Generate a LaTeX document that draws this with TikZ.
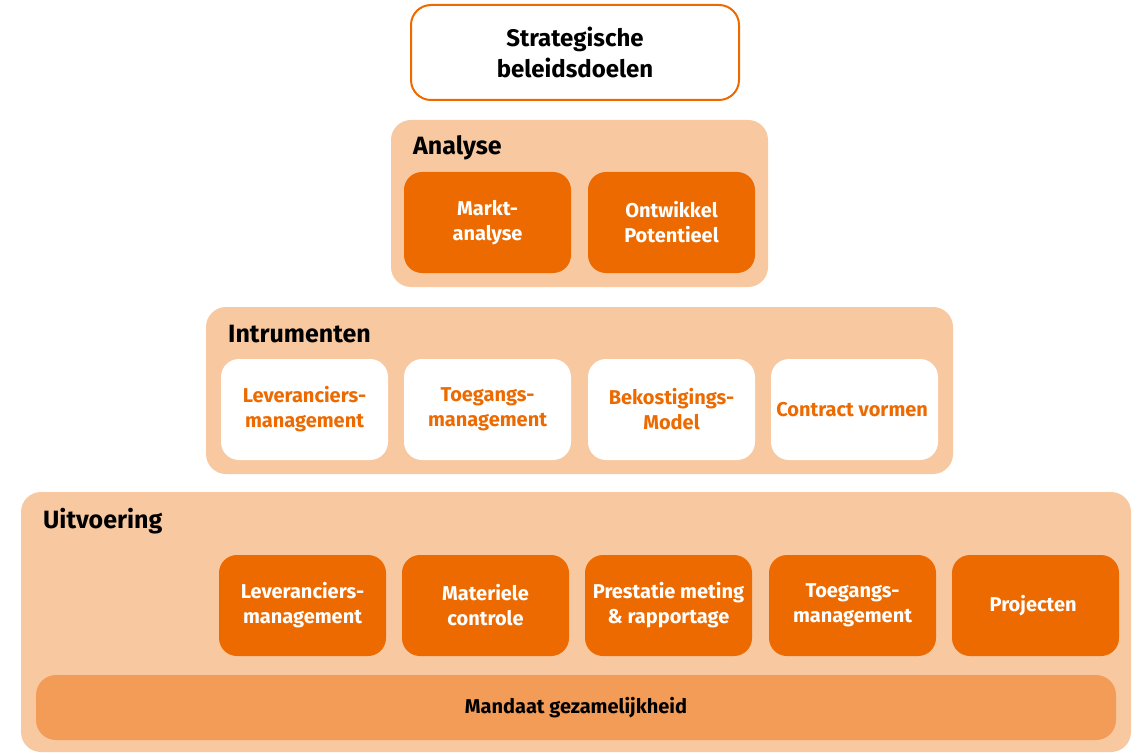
\documentclass[tikz,border=0pt]{standalone}
\usepackage{fontspec}
\setmainfont{Fira Sans}
\definecolor{oranje}{HTML}{EC6A00}
\definecolor{perzik}{HTML}{F8C8A0}
\definecolor{mandaat}{HTML}{F39C58}
\tikzset{
  panel/.style={fill=perzik,rounded corners=20pt,inner sep=0pt},
  blok/.style={rounded corners=18pt,minimum width=167pt,minimum height=101pt,
    align=center,inner sep=0pt,font=\bfseries\fontsize{20}{25}\selectfont},
  oranjeblok/.style={blok,fill=oranje,text=white},
  witblok/.style={blok,fill=white,text=oranje},
  kop/.style={anchor=west,inner sep=0pt,font=\bfseries\fontsize{25}{28}\selectfont}
}
\begin{document}
\begin{tikzpicture}[x=1pt,y=-1pt]
\useasboundingbox (0,0) rectangle (1140,754);

\node [draw=oranje,line width=2pt,rounded corners=20pt,minimum width=328pt,
  minimum height=95pt,align=center,font=\bfseries\fontsize{24}{31}\selectfont]
  (nDoel) at (575,52.5) {Strategische\\beleidsdoelen};

% panelen
\node [panel,minimum width=377pt,minimum height=167pt] (pAnalyse) at (579.5,203.5) {};
\node [panel,minimum width=747pt,minimum height=167pt] (pInstr) at (579.5,390.5) {};
\node [panel,minimum width=1110pt,minimum height=260pt] (pUitv) at (576,622) {};

\node [kop] (kAnalyse) at (413,148) {Analyse};
\node [kop] (kInstr) at (228,334) {Intrumenten};
\node [kop] (kUitv) at (43,521) {Uitvoering};

\foreach \nm/\px/\tekst in
{   bMarkt/487.5/Markt-\\analyse,
    bOntw/671.5/Ontwikkel\\Potentieel
}
{
    \node [oranjeblok] (\nm) at (\px,222.5) {\tekst};
}

\foreach \nm/\px/\tekst in
{   bLevI/304.5/Leveranciers-\\management,
    bToeI/487.5/Toegangs-\\management,
    bBek/671.5/Bekostigings-\\Model,
    bContr/854.5/Contract vormen
}
{
    \node [witblok] (\nm) at (\px,409.5) {\tekst};
}

\foreach \nm/\px/\tekst in
{   bLevU/302.5/Leveranciers-\\management,
    bMat/485.5/Materiele\\controle,
    bPrest/668.5/Prestatie meting\\\& rapportage,
    bToeU/852.5/Toegangs-\\management,
    bProj/1035.5/Projecten
}
{
    \node [oranjeblok] (\nm) at (\px,605.5) {\tekst};
}

\node [fill=mandaat,rounded corners=20pt,minimum width=1080pt,minimum height=65pt,
  font=\bfseries\fontsize{20}{24}\selectfont] (bMandaat) at (576,707.5) {Mandaat gezamelijkheid};
\end{tikzpicture}
\end{document}
